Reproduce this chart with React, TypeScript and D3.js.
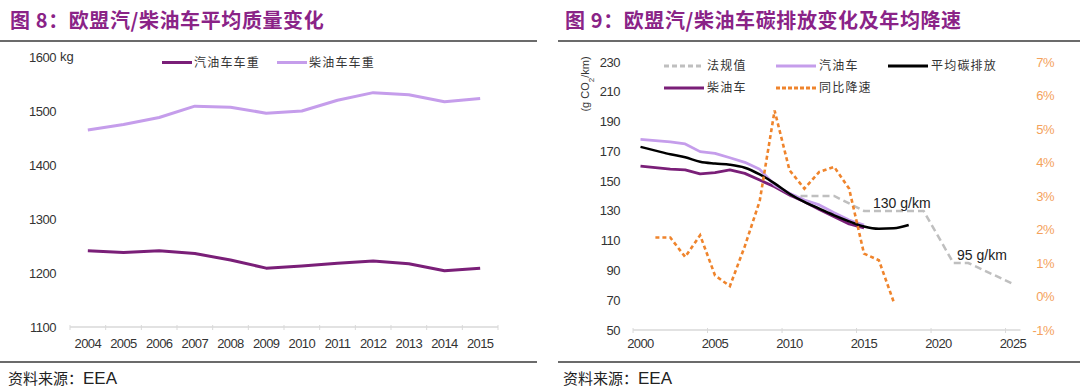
import { useEffect, useRef } from "react";
import * as d3 from "d3";

// Fig 8: average mass (kg)
const weightYears = ["2004", "2005", "2006", "2007", "2008", "2009", "2010", "2011", "2012", "2013", "2014", "2015"];
const petrolWeight = [1241, 1238, 1241, 1236, 1224, 1209, 1213, 1218, 1222, 1217, 1204, 1209];
const dieselWeight = [1465, 1475, 1488, 1509, 1507, 1496, 1500, 1520, 1534, 1530, 1517, 1523];
const weightTicks = [1100, 1200, 1300, 1400, 1500, 1600];

// Fig 9: CO2 emissions (g/km), yearly from 2000
const petrolCO2 = [178, 177.2, 176.3, 175, 169.8, 168.6, 165.7, 162.6, 157.9, 147.4, 141.8, 137.3, 134, 128.8, 123.9, 120.5];
const dieselCO2 = [160.1, 159, 158, 157.5, 154.8, 155.7, 157.5, 155.2, 150.7, 146.2, 140.7, 136.2, 131, 126, 121.2, 118.5];
const avgCO2 = [173, 170.5, 168, 166, 163, 161.8, 161, 159, 154.5, 148.5, 141.5, 136, 131.5, 127, 123, 119.5, 118, 118.3, 120.5];
// yoy decline (%), yearly from 2001
const yoyDecline = [1.76, 1.76, 1.18, 1.83, 0.63, 0.31, 1.5, 2.85, 5.55, 3.77, 3.22, 3.72, 3.87, 3.22, 1.28, 1.08, -0.17];
// legal limit, break points only
const legalYears = [2010, 2013, 2015, 2019, 2021, 2022, 2025];
const legalValues = [140, 140, 130, 130, 95, 95, 81];
const co2Ticks = [50, 70, 90, 110, 130, 150, 170, 190, 210, 230];
const pctTicks = [-1, 0, 1, 2, 3, 4, 5, 6, 7];
const co2YearTicks = [2000, 2005, 2010, 2015, 2020, 2025];

const darkPurple = "#7a1f78";
const lightPurple = "#c59deb";
const orange = "#ef842c";
const gray = "#bfbfbf";
const titleColor = "#8a2387";
const latin = "'Liberation Sans', Arial, sans-serif";
const cjk = "'Noto Sans CJK SC', sans-serif";

export default function App() {
  const svgRef = useRef<SVGSVGElement>(null);

  useEffect(() => {
    const svg = d3.select(svgRef.current).html(null);

    // titles and frame lines
    const titles = [
      { x: 10, text: "图 8：欧盟汽/柴油车平均质量变化" },
      { x: 565, text: "图 9：欧盟汽/柴油车碳排放变化及年均降速" },
    ];
    titles.forEach((t) => {
      svg.append("text")
        .attr("x", t.x).attr("y", 28)
        .style("font-family", cjk).style("font-size", "20px").style("font-weight", 700)
        .style("letter-spacing", "0.6px")
        .attr("fill", titleColor)
        .text(t.text);
    });
    [[0, 537], [558, 1080]].forEach(([a, b]) => {
      [41, 362].forEach((yy) => {
        svg.append("line").attr("x1", a).attr("x2", b).attr("y1", yy).attr("y2", yy)
          .attr("stroke", "#3a3a3a").attr("stroke-width", 1.3);
      });
    });
    [8, 563].forEach((sx) => {
      const t = svg.append("text").attr("x", sx).attr("y", 384).attr("fill", "#222");
      t.append("tspan").style("font-family", cjk).style("font-size", "15px").text("资料来源：");
      t.append("tspan").style("font-family", latin).style("font-size", "17px").text("EEA");
    });

    // ---------- Fig 8 ----------
    const x8 = d3.scaleBand().domain(weightYears).range([70, 498]);
    const y8 = d3.scaleLinear().domain([1100, 1600]).range([327, 57]);
    const g8 = svg.append("g");

    weightTicks.forEach((v) => {
      g8.append("text").attr("x", 56).attr("y", y8(v)).attr("dy", "0.35em")
        .attr("text-anchor", "end").attr("fill", "#333")
        .style("font-family", latin).style("font-size", "13px").style("letter-spacing", "-0.5px")
        .text(v);
    });
    g8.append("text").attr("x", 60).attr("y", y8(1600)).attr("dy", "0.3em").attr("fill", "#333")
      .style("font-family", latin).style("font-size", "13px").text("kg");

    g8.append("line").attr("x1", 70).attr("x2", 498).attr("y1", y8(1100)).attr("y2", y8(1100))
      .attr("stroke", "#d9d9d9").attr("stroke-width", 1.5);
    [...weightYears.map((d) => x8(d) as number), 498].forEach((tx) => {
      g8.append("line").attr("x1", tx).attr("x2", tx).attr("y1", y8(1100) - 2).attr("y2", y8(1100) + 3)
        .attr("stroke", "#d9d9d9");
    });
    weightYears.forEach((d) => {
      g8.append("text").attr("x", (x8(d) as number) + x8.bandwidth() / 2).attr("y", 348)
        .attr("text-anchor", "middle").attr("fill", "#333")
        .style("font-family", latin).style("font-size", "13px").style("letter-spacing", "-0.6px")
        .text(d);
    });

    const line8 = d3.line<number>()
      .x((_, i) => (x8(weightYears[i]) as number) + x8.bandwidth() / 2)
      .y((d) => y8(d));
    [[petrolWeight, darkPurple], [dieselWeight, lightPurple]].forEach(([data, c]) => {
      g8.append("path").datum(data as number[]).attr("d", line8)
        .attr("fill", "none").attr("stroke", c as string).attr("stroke-width", 3)
        .attr("stroke-linejoin", "round");
    });

    const legend8 = [
      { x: 162, label: "汽油车车重", color: darkPurple },
      { x: 277, label: "柴油车车重", color: lightPurple },
    ];
    legend8.forEach((l) => {
      g8.append("line").attr("x1", l.x).attr("x2", l.x + 30).attr("y1", 62.5).attr("y2", 62.5)
        .attr("stroke", l.color).attr("stroke-width", 3);
      g8.append("text").attr("x", l.x + 32).attr("y", 62.5).attr("dy", "0.36em").attr("fill", "#333")
        .style("font-family", cjk).style("font-size", "12px").style("letter-spacing", "1.2px")
        .text(l.label);
    });

    // ---------- Fig 9 ----------
    const x9 = d3.scaleLinear().domain([2000, 2025]).range([640.5, 1013]);
    const y9 = d3.scaleLinear().domain([50, 230]).range([330, 62]);
    const yR = d3.scaleLinear().domain([-1, 7]).range([330, 62]);
    const g9 = svg.append("g");

    co2Ticks.forEach((v) => {
      g9.append("text").attr("x", 620).attr("y", y9(v)).attr("dy", "0.35em")
        .attr("text-anchor", "end").attr("fill", "#333")
        .style("font-family", latin).style("font-size", "13px").style("letter-spacing", "-0.5px")
        .text(v);
    });
    pctTicks.forEach((v) => {
      g9.append("text").attr("x", 1054).attr("y", yR(v)).attr("dy", "0.35em")
        .attr("text-anchor", "end").attr("fill", "#f4a25c")
        .style("font-family", latin).style("font-size", "13px").style("letter-spacing", "-0.5px")
        .text(`${v}%`);
    });
    const unit = g9.append("text")
      .attr("transform", `translate(589,84) rotate(-90)`)
      .attr("text-anchor", "middle").attr("fill", "#333")
      .style("font-family", latin).style("font-size", "11px");
    unit.append("tspan").text("(g CO");
    unit.append("tspan").attr("baseline-shift", "sub").style("font-size", "8px").text("2");
    unit.append("tspan").text("/km)");

    const axisY = y9(50);
    g9.append("line").attr("x1", x9(1999.5)).attr("x2", x9(2025.5)).attr("y1", axisY).attr("y2", axisY)
      .attr("stroke", "#d9d9d9").attr("stroke-width", 1.5);
    co2YearTicks.forEach((yr) => {
      g9.append("line").attr("x1", x9(yr - 0.5)).attr("x2", x9(yr - 0.5)).attr("y1", axisY - 2).attr("y2", axisY + 3)
        .attr("stroke", "#d9d9d9");
      g9.append("text").attr("x", x9(yr)).attr("y", 348).attr("text-anchor", "middle").attr("fill", "#333")
        .style("font-family", latin).style("font-size", "13px").style("letter-spacing", "-0.6px")
        .text(yr);
    });

    const lineYear = (start: number) => d3.line<number>()
      .x((_, i) => x9(start + i))
      .y((d) => y9(d));

    g9.append("path").datum(legalValues).attr("d", d3.line<number>()
      .x((_, i) => x9(legalYears[i])).y((d) => y9(d)))
      .attr("fill", "none").attr("stroke", gray).attr("stroke-width", 2.5)
      .attr("stroke-dasharray", "7,4");

    g9.append("path").datum(dieselCO2).attr("d", lineYear(2000))
      .attr("fill", "none").attr("stroke", darkPurple).attr("stroke-width", 2.8).attr("stroke-linejoin", "round");
    g9.append("path").datum(petrolCO2).attr("d", lineYear(2000))
      .attr("fill", "none").attr("stroke", lightPurple).attr("stroke-width", 2.8).attr("stroke-linejoin", "round");
    g9.append("path").datum(avgCO2).attr("d", d3.line<number>().curve(d3.curveMonotoneX)
      .x((_, i) => x9(2000 + i)).y((d) => y9(d)))
      .attr("fill", "none").attr("stroke", "#000").attr("stroke-width", 2.5);

    g9.append("path").datum(yoyDecline).attr("d", d3.line<number>()
      .x((_, i) => x9(2001 + i)).y((d) => yR(d)))
      .attr("fill", "none").attr("stroke", orange).attr("stroke-width", 2.6)
      .attr("stroke-dasharray", "4,3");

    g9.append("text").attr("x", 873).attr("y", 208).attr("fill", "#222")
      .style("font-family", latin).style("font-size", "14px").text("130 g/km");
    g9.append("text").attr("x", 957).attr("y", 260).attr("fill", "#222")
      .style("font-family", latin).style("font-size", "14px").text("95 g/km");

    const legend9 = [
      { x: 664, y: 66, label: "法规值", color: gray, dash: "5,3" },
      { x: 776, y: 66, label: "汽油车", color: lightPurple, dash: null },
      { x: 888, y: 66, label: "平均碳排放", color: "#000", dash: null },
      { x: 664, y: 88, label: "柴油车", color: darkPurple, dash: null },
      { x: 776, y: 88, label: "同比降速", color: orange, dash: "4,2" },
    ];
    legend9.forEach((l) => {
      g9.append("line").attr("x1", l.x).attr("x2", l.x + 40).attr("y1", l.y).attr("y2", l.y)
        .attr("stroke", l.color).attr("stroke-width", 2.8)
        .attr("stroke-dasharray", l.dash);
      g9.append("text").attr("x", l.x + 43).attr("y", l.y).attr("dy", "0.36em").attr("fill", "#333")
        .style("font-family", cjk).style("font-size", "12px").style("letter-spacing", "1.2px")
        .text(l.label);
    });
  }, []);

  return (
    <div style={{ position: "absolute", left: 0, top: 0, background: "#fff" }}>
      <svg ref={svgRef} width={1080} height={388} style={{ display: "block" }}></svg>
    </div>
  );
}
